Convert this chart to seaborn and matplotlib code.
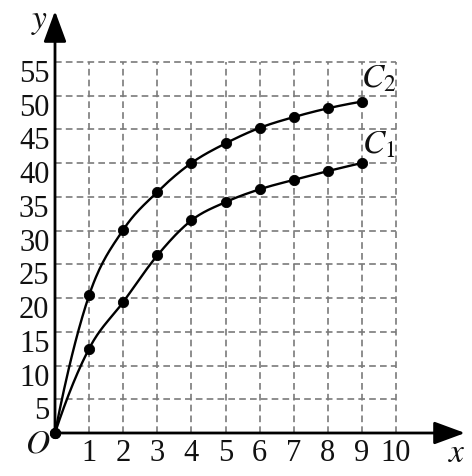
import numpy as np
import pandas as pd
import matplotlib
matplotlib.use("Agg")
import matplotlib.pyplot as plt
import matplotlib.transforms as mtransforms
import seaborn as sns

sns.set_theme(style="white")
plt.rcParams['font.family'] = ['Liberation Serif', 'DejaVu Serif']
plt.rcParams['mathtext.fontset'] = 'stix'

# -----------------------------------
# data
# -----------------------------------
x_vals = [0, 1, 2, 3, 4, 5, 6, 7, 8, 9]
c1_vals = [0, 12.5, 19.4, 26.3, 31.5, 34.2, 36.1, 37.5, 38.8, 40.0]
c2_vals = [0, 20.4, 30.1, 35.7, 40.0, 42.9, 45.2, 46.8, 48.1, 49.1]
x_ticks = [1, 2, 3, 4, 5, 6, 7, 8, 9, 10]
y_ticks = [5, 10, 15, 20, 25, 30, 35, 40, 45, 50, 55]


def smooth_curve(xs, ys, n=30):
    # cubic hermite with central-difference slopes, only for drawing the line
    xs = np.asarray(xs, float)
    ys = np.asarray(ys, float)
    h = np.diff(xs)
    d = np.diff(ys) / h
    m = np.zeros_like(ys)
    m[1:-1] = (ys[2:] - ys[:-2]) / (xs[2:] - xs[:-2])
    m[0] = ((2 * h[0] + h[1]) * d[0] - h[0] * d[1]) / (h[0] + h[1])
    m[-1] = ((2 * h[-1] + h[-2]) * d[-1] - h[-1] * d[-2]) / (h[-1] + h[-2])
    px, py = [], []
    for k in range(len(xs) - 1):
        t = np.linspace(0, 1, n, endpoint=False)
        h00 = 2 * t**3 - 3 * t**2 + 1
        h10 = t**3 - 2 * t**2 + t
        h01 = -2 * t**3 + 3 * t**2
        h11 = t**3 - t**2
        px.extend(xs[k] + t * h[k])
        py.extend(h00 * ys[k] + h10 * h[k] * m[k] + h01 * ys[k + 1] + h11 * h[k] * m[k + 1])
    px.append(xs[-1])
    py.append(ys[-1])
    return np.array(px), np.array(py)


fig = plt.figure(figsize=(4.72, 4.76), dpi=100)
ax = fig.add_axes([55 / 472, 43 / 476, 410 / 472, 422 / 476])
ax.set_xlim(0, 410 / 34.1)
ax.set_ylim(0, 422 / 6.75)
for s in ax.spines.values():
    s.set_visible(False)

# dashed grid
grid_kw = dict(color="#7a7a7a", linewidth=1.2, linestyles=(0, (4, 2.5)), zorder=1)
ax.vlines(x_ticks, 0, max(y_ticks), **grid_kw)
ax.hlines(y_ticks, 0, max(x_ticks), **grid_kw)

# curves
for ys in (c1_vals, c2_vals):
    sx, sy = smooth_curve(x_vals, ys)
    sns.lineplot(x=sx, y=sy, ax=ax, color="black", linewidth=1.7, sort=False, zorder=3)
    df = pd.DataFrame({"x": x_vals, "y": ys})
    sns.scatterplot(data=df, x="x", y="y", ax=ax, color="black", s=55,
                    edgecolor="black", zorder=4, clip_on=False)

# axes with arrows
arrow_kw = dict(arrowstyle="-|>,head_length=0.95,head_width=0.35", color="black",
                lw=2.0, mutation_scale=20, shrinkA=0, shrinkB=0)
ax.annotate("", xy=(ax.get_xlim()[1], 0), xytext=(0, 0), arrowprops=arrow_kw,
            annotation_clip=False, zorder=5)
ax.annotate("", xy=(0, ax.get_ylim()[1]), xytext=(0, 0), arrowprops=arrow_kw,
            annotation_clip=False, zorder=5)

# ticks
ax.set_xticks(x_ticks)
ax.set_xticklabels([str(v) for v in x_ticks])
ax.set_yticks(y_ticks)
ax.set_yticklabels([str(v) for v in y_ticks])
ax.tick_params(axis="both", length=0, labelsize=22, colors="#111111")
ax.tick_params(axis="x", pad=4)
ax.tick_params(axis="y", pad=4)
shift = mtransforms.ScaledTranslation(0, -9 / 100, fig.dpi_scale_trans)
for lab in ax.get_yticklabels():
    lab.set_transform(lab.get_transform() + shift)
ax.set_xlabel("")
ax.set_ylabel("")

# labels
txt_kw = dict(ha="center", va="center", color="#111111", clip_on=False)
ax.text(-0.5, -1.6, r"$O$", fontsize=24, **txt_kw)
ax.text(11.8, -3.1, r"$x$", fontsize=24, **txt_kw)
ax.text(-0.45, 61.0, r"$y$", fontsize=24, **txt_kw)
ax.text(9.5, 52.4, r"$C_2$", fontsize=24, **txt_kw)
ax.text(9.5, 42.6, r"$C_1$", fontsize=24, **txt_kw)

fig.savefig("out.png", dpi=100)
